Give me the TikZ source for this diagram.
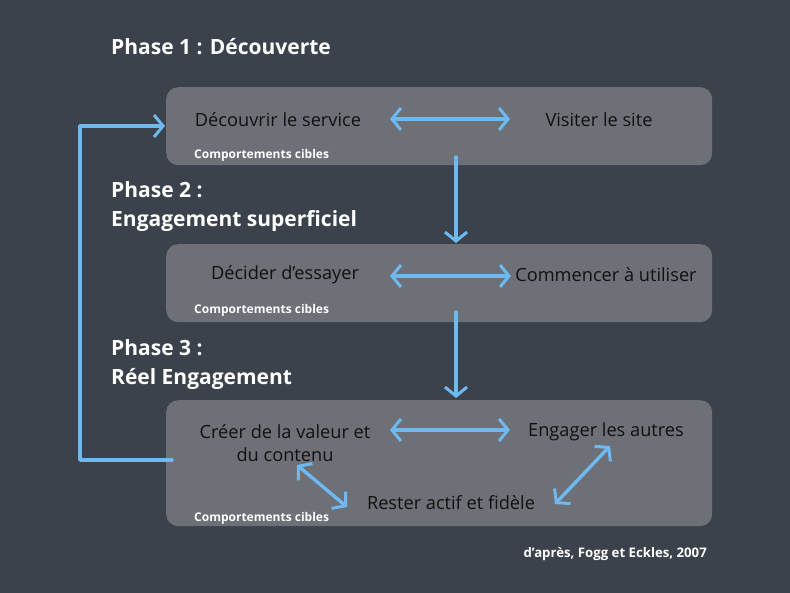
\documentclass[tikz,border=0pt]{standalone}
\usepackage{fontspec}
\setmainfont{Open Sans}
\usetikzlibrary{arrows.meta}
\definecolor{board}{HTML}{3B424C}
\definecolor{boxfill}{HTML}{6D7076}
\definecolor{chalk}{HTML}{6DB9F0}
\definecolor{ink}{HTML}{111111}
\tikzset{
  x=1pt,y=-1pt,
  panel/.style={fill=boxfill,rounded corners=12pt},
  item/.style={text=ink,font=\fontsize{18.2}{23}\selectfont,inner sep=0pt},
  phase/.style={text=white,font=\fontsize{21}{24}\selectfont\bfseries,anchor=base west,inner sep=0pt},
  cible/.style={text=white,font=\fontsize{12}{13}\selectfont\bfseries,anchor=base west,inner sep=0pt},
  chalkarrow/.style={draw=chalk,line width=3.4pt,line cap=round,line join=round,-{Straight Barb[length=9pt,width=22pt,line width=3pt]}},
  chalkboth/.style={draw=chalk,line width=3.4pt,line cap=round,{Straight Barb[length=9pt,width=22pt,line width=3pt]}-{Straight Barb[length=9pt,width=22pt,line width=3pt]}}
}
\begin{document}
\begin{tikzpicture}
\fill[board] (0,0) rectangle (790,593);
\useasboundingbox (0,0) rectangle (790,593);
% panels
\node[panel,minimum width=546pt,minimum height=78pt,anchor=north west] (p1) at (166,87) {};
\node[panel,minimum width=546pt,minimum height=78pt,anchor=north west] (p2) at (166,244) {};
\node[panel,minimum width=546pt,minimum height=126pt,anchor=north west] (p3) at (166,400) {};
% phase titles
\node[phase] (t1) at (111,55) {Phase 1 : Découverte};
\node[phase] (t2a) at (111,198) {Phase 2 :};
\node[phase] (t2b) at (111,227) {Engagement superficiel};
\node[phase] (t3a) at (111,356) {Phase 3 :};
\node[phase] (t3b) at (111,385) {Réel Engagement};
% items
\node[item] (a1) at (278,120) {Découvrir le service};
\node[item] (a2) at (599,120) {Visiter le site};
\node[item] (b1) at (285,275) {Décider d’essayer};
\node[item] (b2) at (606,275) {Commencer à utiliser};
\node[item,align=center] (c1) at (285,443) {Créer de la valeur et\\du contenu};
\node[item] (c2) at (606,432) {Engager les autres};
\node[item] (c3) at (451,503) {Rester actif et fidèle};
% cibles
\node[cible] (k1) at (194,159) {Comportements cibles};
\node[cible] (k2) at (194,314) {Comportements cibles};
\node[cible] (k3) at (194,521) {Comportements cibles};
\node[text=white,font=\fontsize{13.2}{15}\selectfont\bfseries,anchor=base east,inner sep=0pt] (src) at (707,557) {d’après, Fogg et Eckles, 2007};
% arrows
\coordinate (a1e) at (390,119);
\coordinate (a2w) at (510,119);
\draw[chalkboth] (a1e) -- (a2w);
\coordinate (b1e) at (390,276);
\coordinate (b2w) at (511,276);
\draw[chalkboth] (b1e) -- (b2w);
\coordinate (c1e) at (390,430);
\coordinate (c2w) at (510,430);
\draw[chalkboth] (c1e) -- (c2w);
\coordinate (c1s) at (297,465);
\coordinate (c3w) at (347,507);
\draw[chalkboth] (c1s) -- (c3w);
\coordinate (c3e) at (555,504);
\coordinate (c2s) at (610,446);
\draw[chalkboth] (c3e) -- (c2s);
\coordinate (d1s) at (456,157);
\coordinate (d1e) at (456,243);
\draw[chalkarrow] (d1s) -- (d1e);
\coordinate (d2s) at (456,312);
\coordinate (d2e) at (456,398);
\draw[chalkarrow] (d2s) -- (d2e);
\coordinate (l1) at (172,460);
\coordinate (l4) at (165,126);
\draw[chalkarrow] (l1) -- (80,460) -- (80,126) -- (l4);
\end{tikzpicture}
\end{document}
